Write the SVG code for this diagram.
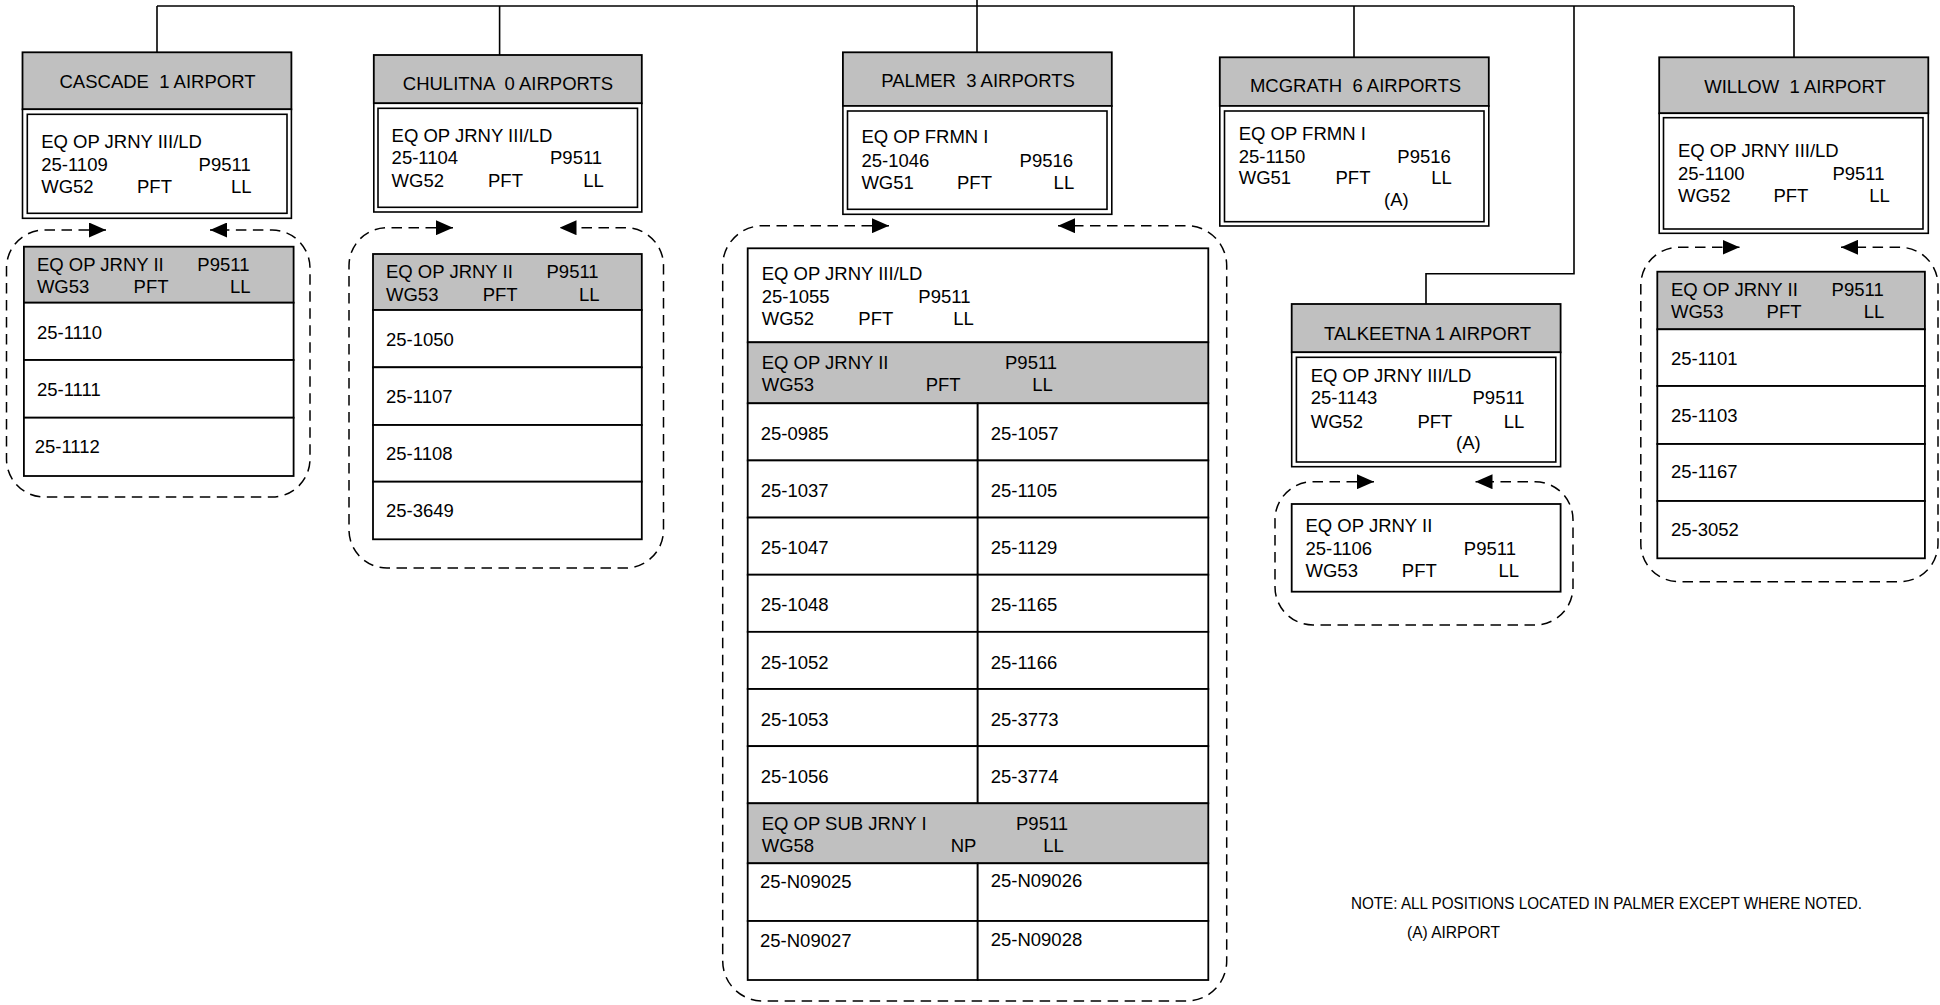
<svg xmlns="http://www.w3.org/2000/svg" width="1940" height="1005" viewBox="0 0 1940 1005">
<style>
.hdr{fill:#c0c0c0;stroke:#000;stroke-width:1.8}
.box{fill:#fff;stroke:#000;stroke-width:1.6}
.cell{fill:#fff;stroke:#000;stroke-width:1.8}
.gcell{fill:#c0c0c0;stroke:#000;stroke-width:1.8}
.ln{fill:none;stroke:#000;stroke-width:1.6}
.dash{fill:none;stroke:#000;stroke-width:1.5;stroke-dasharray:10.5 6.5;marker-start:url(#arr);marker-end:url(#arr)}
text{font-family:"Liberation Sans",Arial,sans-serif;font-size:18.5px;fill:#000}
.c{text-anchor:middle}
.note{font-family:"Liberation Sans",Arial,sans-serif;font-size:16px}
</style>
<defs>
<marker id="arr" markerUnits="userSpaceOnUse" markerWidth="17" markerHeight="15" refX="17" refY="7.5" orient="auto-start-reverse">
<path d="M0,0 L17,7.5 L0,15 Z" fill="#000"/>
</marker>
</defs>
<rect width="1940" height="1005" fill="#fff"/>

<g id="connectors">
<path class="ln" d="M157,6 H1794"/>
<path class="ln" d="M977,0 V52.3"/>
<path class="ln" d="M157,6 V52.3"/>
<path class="ln" d="M499.6,6 V55"/>
<path class="ln" d="M1354,6 V57.3"/>
<path class="ln" d="M1794,6 V57.3"/>
<path class="ln" d="M1574,6 V273.7 H1426 V304"/>
<path class="dash" d="M106,230 H44.5 A38,38 0 0 0 6.5,268 V459 A38,38 0 0 0 44.5,497 H272 A38,38 0 0 0 310,459 V268 A38,38 0 0 0 272,230 H210"/>
<path class="dash" d="M453,227.7 H387 A38,38 0 0 0 349,265.7 V530 A38,38 0 0 0 387,568 H625.5 A38,38 0 0 0 663.5,530 V265.7 A38,38 0 0 0 625.5,227.7 H559.5"/>
<path class="dash" d="M889,225.7 H762.7 A40,40 0 0 0 722.7,265.7 V961 A40,40 0 0 0 762.7,1001 H1186.7 A40,40 0 0 0 1226.7,961 V265.7 A40,40 0 0 0 1186.7,225.7 H1058"/>
<path class="dash" d="M1374,481.7 H1313 A38,38 0 0 0 1275,519.7 V587 A38,38 0 0 0 1313,625 H1535 A38,38 0 0 0 1573,587 V519.7 A38,38 0 0 0 1535,481.7 H1475.5"/>
<path class="dash" d="M1739.5,247.3 H1678.8 A38,38 0 0 0 1640.8,285.3 V543.7 A38,38 0 0 0 1678.8,581.7 H1900 A38,38 0 0 0 1938,543.7 V285.3 A38,38 0 0 0 1900,247.3 H1841"/>
</g>

<g id="cascade">
<rect class="hdr" x="22.5" y="52.3" width="268.9" height="57"/>
<rect class="box" x="22.5" y="109.3" width="268.9" height="109"/>
<rect class="box" x="27.3" y="114.3" width="259.7" height="99"/>
<text class="c" x="157.5" y="88" xml:space="preserve">CASCADE  1 AIRPORT</text>
<text><tspan x="41.2" y="148">EQ OP JRNY III/LD</tspan><tspan x="41.2" y="170.7">25-1109</tspan><tspan x="198.6" y="170.7">P9511</tspan><tspan x="41.2" y="193.3">WG52</tspan><tspan x="137" y="193.3">PFT</tspan><tspan x="231" y="193.3">LL</tspan></text>
</g>
<g id="cascade-jrny2">
<rect class="gcell" x="23.9" y="246.7" width="269.7" height="56"/>
<rect class="cell" x="23.9" y="302.7" width="269.7" height="57.3"/>
<rect class="cell" x="23.9" y="360" width="269.7" height="57.7"/>
<rect class="cell" x="23.9" y="417.7" width="269.7" height="58.3"/>
<text><tspan x="36.9" y="270.7">EQ OP JRNY II</tspan><tspan x="197.3" y="270.7">P9511</tspan><tspan x="36.9" y="293.3">WG53</tspan><tspan x="133.6" y="293.3">PFT</tspan><tspan x="229.9" y="293.3">LL</tspan></text>
<text><tspan x="36.9" y="339">25-1110</tspan><tspan x="36.9" y="395.7">25-1111</tspan><tspan x="34.7" y="453.3">25-1112</tspan></text>
</g>

<g id="chulitna">
<rect class="hdr" x="373.8" y="55" width="268" height="48.3"/>
<rect class="box" x="373.8" y="103.3" width="268" height="108.7"/>
<rect class="box" x="378" y="108.3" width="259.5" height="99"/>
<text class="c" x="508" y="90" xml:space="preserve">CHULITNA  0 AIRPORTS</text>
<text><tspan x="391.6" y="141.7">EQ OP JRNY III/LD</tspan><tspan x="391.6" y="164">25-1104</tspan><tspan x="550" y="164">P9511</tspan><tspan x="391.6" y="186.7">WG52</tspan><tspan x="488" y="186.7">PFT</tspan><tspan x="583.3" y="186.7">LL</tspan></text>
</g>
<g id="chulitna-jrny2">
<rect class="gcell" x="373" y="254" width="268.8" height="56"/>
<rect class="cell" x="373" y="310" width="268.8" height="57.3"/>
<rect class="cell" x="373" y="367.3" width="268.8" height="57.7"/>
<rect class="cell" x="373" y="425" width="268.8" height="56.7"/>
<rect class="cell" x="373" y="481.7" width="268.8" height="57.6"/>
<text><tspan x="386" y="278.3">EQ OP JRNY II</tspan><tspan x="546.5" y="278.3">P9511</tspan><tspan x="386" y="300.7">WG53</tspan><tspan x="482.7" y="300.7">PFT</tspan><tspan x="579" y="300.7">LL</tspan></text>
<text><tspan x="386" y="346">25-1050</tspan><tspan x="386" y="403.3">25-1107</tspan><tspan x="386" y="460">25-1108</tspan><tspan x="386" y="517.3">25-3649</tspan></text>
</g>

<g id="palmer">
<rect class="hdr" x="842.9" y="52.3" width="268.9" height="53.7"/>
<rect class="box" x="842.9" y="106" width="268.9" height="108.3"/>
<rect class="box" x="847.5" y="111" width="259.5" height="98.3"/>
<text class="c" x="978" y="87.3" xml:space="preserve">PALMER  3 AIRPORTS</text>
<text><tspan x="861.4" y="143.3">EQ OP FRMN I</tspan><tspan x="861.4" y="166.7">25-1046</tspan><tspan x="1019.6" y="166.7">P9516</tspan><tspan x="861.4" y="189">WG51</tspan><tspan x="957" y="189">PFT</tspan><tspan x="1053.6" y="189">LL</tspan></text>
</g>
<g id="palmer-positions">
<rect class="cell" x="747.7" y="248.3" width="460.6" height="94"/>
<text><tspan x="761.7" y="280">EQ OP JRNY III/LD</tspan><tspan x="761.7" y="302.7">25-1055</tspan><tspan x="918.3" y="302.7">P9511</tspan><tspan x="761.7" y="325">WG52</tspan><tspan x="858.3" y="325">PFT</tspan><tspan x="953.3" y="325">LL</tspan></text>
<rect class="gcell" x="747.7" y="342.3" width="460.6" height="61"/>
<text><tspan x="761.7" y="369">EQ OP JRNY II</tspan><tspan x="1005" y="369">P9511</tspan><tspan x="761.7" y="390.7">WG53</tspan><tspan x="925.7" y="390.7">PFT</tspan><tspan x="1032.3" y="390.7">LL</tspan></text>
<rect class="cell" x="747.7" y="403.3" width="230" height="57.14"/><rect class="cell" x="977.7" y="403.3" width="230.6" height="57.14"/>
<rect class="cell" x="747.7" y="460.44" width="230" height="57.14"/><rect class="cell" x="977.7" y="460.44" width="230.6" height="57.14"/>
<rect class="cell" x="747.7" y="517.58" width="230" height="57.14"/><rect class="cell" x="977.7" y="517.58" width="230.6" height="57.14"/>
<rect class="cell" x="747.7" y="574.72" width="230" height="57.14"/><rect class="cell" x="977.7" y="574.72" width="230.6" height="57.14"/>
<rect class="cell" x="747.7" y="631.86" width="230" height="57.14"/><rect class="cell" x="977.7" y="631.86" width="230.6" height="57.14"/>
<rect class="cell" x="747.7" y="689" width="230" height="57.14"/><rect class="cell" x="977.7" y="689" width="230.6" height="57.14"/>
<rect class="cell" x="747.7" y="746.14" width="230" height="57.16"/><rect class="cell" x="977.7" y="746.14" width="230.6" height="57.16"/>
<text><tspan x="760.7" y="440">25-0985</tspan><tspan x="760.7" y="497.1">25-1037</tspan><tspan x="760.7" y="554.3">25-1047</tspan><tspan x="760.7" y="611.4">25-1048</tspan><tspan x="760.7" y="668.6">25-1052</tspan><tspan x="760.7" y="725.7">25-1053</tspan><tspan x="760.7" y="782.9">25-1056</tspan></text>
<text><tspan x="990.7" y="440">25-1057</tspan><tspan x="990.7" y="497.1">25-1105</tspan><tspan x="990.7" y="554.3">25-1129</tspan><tspan x="990.7" y="611.4">25-1165</tspan><tspan x="990.7" y="668.6">25-1166</tspan><tspan x="990.7" y="725.7">25-3773</tspan><tspan x="990.7" y="782.9">25-3774</tspan></text>
<rect class="gcell" x="747.7" y="803.3" width="460.6" height="60"/>
<text><tspan x="761.7" y="830">EQ OP SUB JRNY I</tspan><tspan x="1016" y="830">P9511</tspan><tspan x="761.7" y="851.7">WG58</tspan><tspan x="950.7" y="851.7">NP</tspan><tspan x="1043.3" y="851.7">LL</tspan></text>
<rect class="cell" x="747.7" y="863.3" width="230" height="57.7"/><rect class="cell" x="977.7" y="863.3" width="230.6" height="57.7"/>
<rect class="cell" x="747.7" y="921" width="230" height="59"/><rect class="cell" x="977.7" y="921" width="230.6" height="59"/>
<text><tspan x="760" y="888.3">25-N09025</tspan><tspan x="990.7" y="887.3">25-N09026</tspan><tspan x="760" y="946.7">25-N09027</tspan><tspan x="990.7" y="946">25-N09028</tspan></text>
</g>

<g id="mcgrath">
<rect class="hdr" x="1219.8" y="57.3" width="269" height="48.7"/>
<rect class="box" x="1219.8" y="106" width="269" height="120"/>
<rect class="box" x="1224.5" y="111" width="259.5" height="110.7"/>
<text class="c" x="1355.5" y="91.7" xml:space="preserve">MCGRATH  6 AIRPORTS</text>
<text><tspan x="1238.7" y="140">EQ OP FRMN I</tspan><tspan x="1238.7" y="162.7">25-1150</tspan><tspan x="1397.3" y="162.7">P9516</tspan><tspan x="1238.7" y="184.3">WG51</tspan><tspan x="1335.5" y="184.3">PFT</tspan><tspan x="1431.3" y="184.3">LL</tspan><tspan x="1384" y="206">(A)</tspan></text>
</g>

<g id="talkeetna">
<rect class="hdr" x="1291.7" y="304" width="268.9" height="48.3"/>
<rect class="box" x="1291.7" y="352.3" width="268.9" height="114.4"/>
<rect class="box" x="1296.4" y="357.3" width="259.4" height="104.7"/>
<text class="c" x="1427.6" y="340">TALKEETNA 1 AIRPORT</text>
<text><tspan x="1310.7" y="381.7">EQ OP JRNY III/LD</tspan><tspan x="1310.7" y="404.3">25-1143</tspan><tspan x="1472.5" y="404.3">P9511</tspan><tspan x="1310.7" y="427.7">WG52</tspan><tspan x="1417.4" y="427.7">PFT</tspan><tspan x="1503.7" y="427.7">LL</tspan><tspan x="1456" y="449.3">(A)</tspan></text>
</g>
<g id="talkeetna-jrny2">
<rect class="cell" x="1291.7" y="504" width="268.9" height="87.7"/>
<text><tspan x="1305.5" y="531.7">EQ OP JRNY II</tspan><tspan x="1305.5" y="555">25-1106</tspan><tspan x="1463.8" y="555">P9511</tspan><tspan x="1305.5" y="576.7">WG53</tspan><tspan x="1401.8" y="576.7">PFT</tspan><tspan x="1498.5" y="576.7">LL</tspan></text>
</g>

<g id="willow">
<rect class="hdr" x="1659.2" y="57.3" width="269.1" height="56"/>
<rect class="box" x="1659.2" y="113.3" width="269.1" height="120"/>
<rect class="box" x="1663.5" y="117.7" width="259.5" height="111.3"/>
<text class="c" x="1795" y="93.3" xml:space="preserve">WILLOW  1 AIRPORT</text>
<text><tspan x="1678" y="156.7">EQ OP JRNY III/LD</tspan><tspan x="1678" y="180">25-1100</tspan><tspan x="1832.4" y="180">P9511</tspan><tspan x="1678" y="201.7">WG52</tspan><tspan x="1773.4" y="201.7">PFT</tspan><tspan x="1869.2" y="201.7">LL</tspan></text>
</g>
<g id="willow-jrny2">
<rect class="gcell" x="1657.3" y="271.7" width="267.6" height="57.6"/>
<rect class="cell" x="1657.3" y="329.3" width="267.6" height="56.7"/>
<rect class="cell" x="1657.3" y="386" width="267.6" height="58"/>
<rect class="cell" x="1657.3" y="444" width="267.6" height="57"/>
<rect class="cell" x="1657.3" y="501" width="267.6" height="57.3"/>
<text><tspan x="1671" y="295.7">EQ OP JRNY II</tspan><tspan x="1831.6" y="295.7">P9511</tspan><tspan x="1671" y="318.3">WG53</tspan><tspan x="1766.6" y="318.3">PFT</tspan><tspan x="1863.7" y="318.3">LL</tspan></text>
<text><tspan x="1671" y="365">25-1101</tspan><tspan x="1671" y="421.7">25-1103</tspan><tspan x="1671" y="478.3">25-1167</tspan><tspan x="1671" y="536">25-3052</tspan></text>
</g>

<g id="note">
<text class="note" x="1351" y="909" textLength="511" lengthAdjust="spacingAndGlyphs">NOTE: ALL POSITIONS LOCATED IN PALMER EXCEPT WHERE NOTED.</text>
<text class="note" x="1407" y="937.5" textLength="93" lengthAdjust="spacingAndGlyphs">(A) AIRPORT</text>
</g>
</svg>
